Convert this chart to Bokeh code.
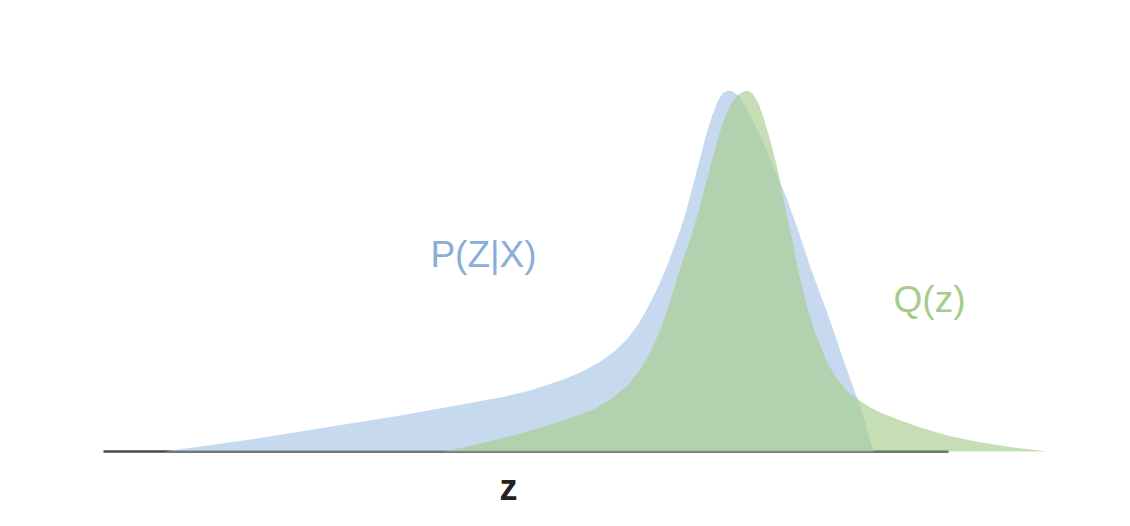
from bokeh.plotting import figure
from bokeh.models import Range1d, Label
from bokeh.embed import file_html
from bokeh.resources import INLINE

# True posterior P(Z|X): z positions and density (arbitrary units)
z_blue = [163, 200, 250, 300, 350, 400, 450, 500, 530, 560, 580, 600, 615, 627,
          637, 645, 653, 660, 667, 673, 680, 687, 693, 700, 706, 712, 717, 722,
          727, 732, 738, 745, 752, 760, 768, 775, 781, 787, 793, 798, 804, 810,
          818, 827, 835, 843, 850, 855, 859, 862, 865, 868, 870, 873]
p_blue = [0, 5, 12, 20, 28, 36, 45, 54, 61, 71, 79, 90, 101, 113,
          126, 140, 155, 170, 187, 203, 222, 245, 268, 295, 318, 337, 350, 358,
          361, 360, 356, 345, 332, 315, 297, 280, 266, 251, 234, 220, 202, 184,
          162, 138, 115, 91, 72, 58, 48, 38, 28, 17, 9, 0]

# Approximation Q(z)
z_green = [443, 480, 520, 560, 593, 610, 627, 640, 650, 660, 668, 675, 682, 690,
           698, 705, 712, 718, 724, 730, 736, 741, 747, 752, 758, 763, 768, 773,
           778, 783, 790, 797, 805, 815, 827, 837, 847, 855, 862, 870, 880, 900,
           920, 947, 970, 987, 1013, 1030, 1047]
q_green = [0, 8, 18, 30, 42, 52, 66, 82, 100, 122, 145, 168, 190, 213,
           240, 266, 293, 315, 333, 346, 355, 359, 361, 358, 348, 334, 317, 299,
           278, 251, 220, 184, 150, 118, 88, 72, 60, 54, 49, 44, 39, 31,
           24, 16, 11, 8, 4, 2, 0]

# z axis extent
axis_z = [103, 948]
axis_y = [0, 0]

p = figure(width=1114, height=510, output_backend="svg", toolbar_location=None,
           x_range=Range1d(0, 1114), y_range=Range1d(-59, 451),
           min_border=0)
p.axis.visible = False
p.grid.visible = False
p.outline_line_color = None
p.background_fill_color = "white"
p.border_fill_color = "white"

p.line(axis_z, axis_y, line_color="#4a4a4a", line_width=2.5)
p.varea(x=z_blue, y1=[0] * len(z_blue), y2=p_blue, fill_color="#aec9e7", fill_alpha=0.7)
p.varea(x=z_green, y1=[0] * len(z_green), y2=q_green, fill_color="#a8cc8d", fill_alpha=0.65)

p.add_layout(Label(x=483, y=197, text="P(Z|X)", text_align="center",
                   text_baseline="alphabetic", text_font="Liberation Sans",
                   text_font_size="37px", text_color="#8aaddb"))
p.add_layout(Label(x=929, y=152, text="Q(z)", text_align="center",
                   text_baseline="alphabetic", text_font="Liberation Sans",
                   text_font_size="37px", text_color="#a5cc8c"))
p.add_layout(Label(x=508, y=-36, text="z", text_align="center",
                   text_baseline="alphabetic", text_font="Liberation Sans",
                   text_font_size="36px", text_font_style="bold",
                   text_color="#222222"))

open("out.html", "w").write(file_html(p, INLINE))
